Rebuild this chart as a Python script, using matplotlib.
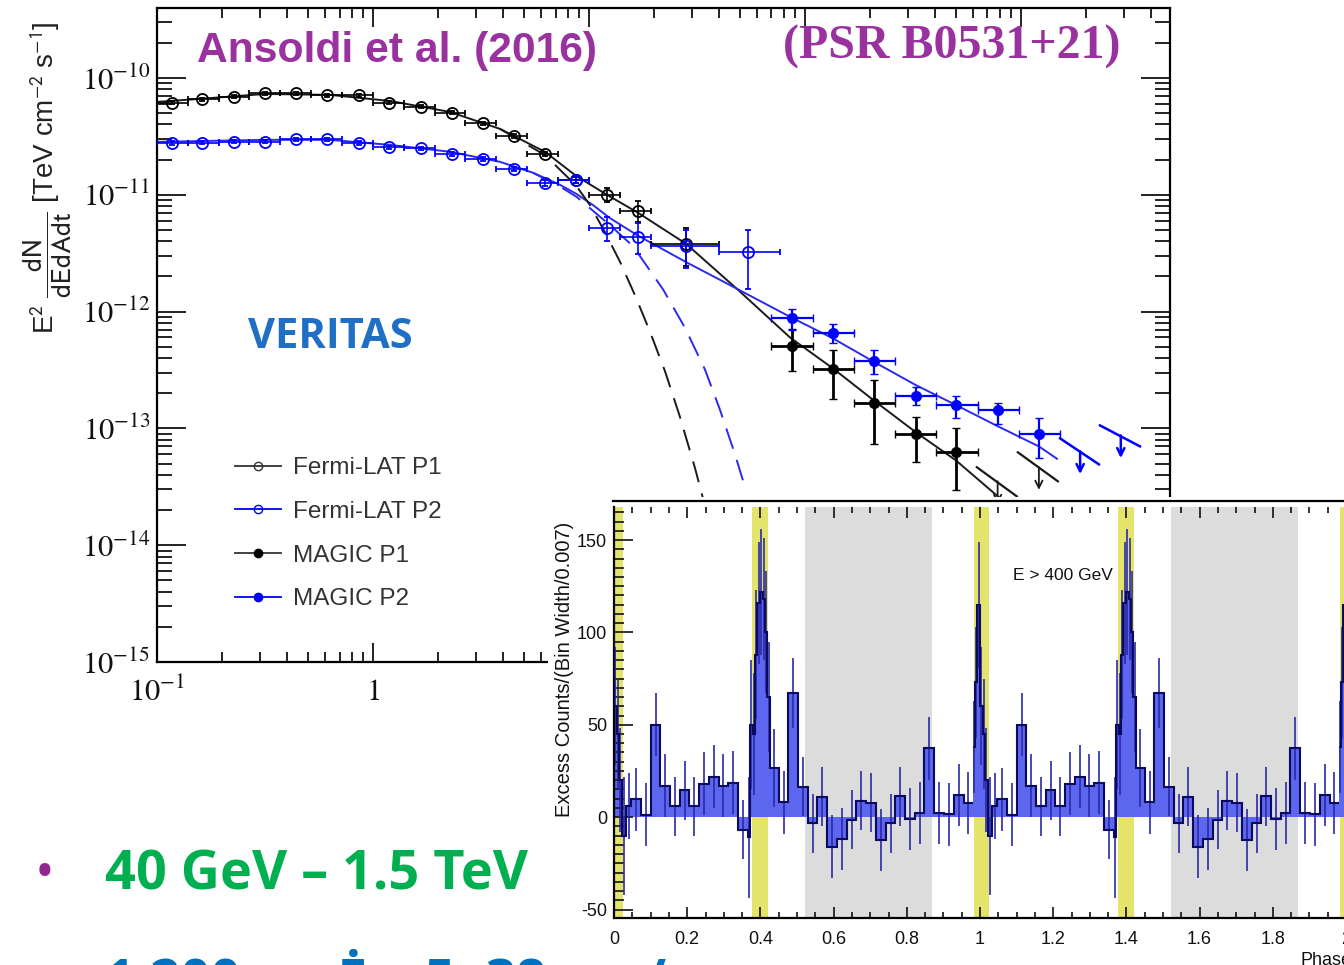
import numpy as np
import matplotlib
matplotlib.use("Agg")
import matplotlib.pyplot as plt
from matplotlib.lines import Line2D
from matplotlib.ticker import LogLocator, MultipleLocator, NullFormatter

plt.rcParams['font.family'] = ['Liberation Sans', 'DejaVu Sans']
plt.rcParams['mathtext.fontset'] = 'stix'
plt.rcParams['axes.unicode_minus'] = False

# ---------------- SED data (E in GeV, E^2 dN/dE in TeV cm^-2 s^-1) ----------------
fermi_e = [0.117, 0.162, 0.227, 0.316, 0.439, 0.614, 0.859, 1.19, 1.66, 2.31,
           3.22, 4.51, 6.25, 8.71, 12.1, 16.9, 28.1, 54.5]
fermi_edges = [0.1, 0.139, 0.193, 0.268, 0.373, 0.518, 0.72, 1.0, 1.39, 1.93,
               2.68, 3.73, 5.18, 7.2, 10.0, 13.9, 19.3, 40.0, 77.0]
fermi_p1_flux = [6.15e-11, 6.58e-11, 6.92e-11, 7.40e-11, 7.40e-11, 7.11e-11, 7.11e-11,
                 6.15e-11, 5.69e-11, 5.05e-11, 4.10e-11, 3.19e-11, 2.24e-11, 1.34e-11,
                 1.0e-11, 7.30e-12, 3.81e-12]
fermi_p1_err = [1.8e-12, 1.9e-12, 2.0e-12, 2.1e-12, 2.1e-12, 2.0e-12, 2.0e-12, 1.8e-12,
                1.7e-12, 1.5e-12, 1.3e-12, 1.1e-12, 0.9e-12, 0.8e-12, 1.4e-12, 1.5e-12,
                1.35e-12]
fermi_p2_flux = [2.77e-11, 2.80e-11, 2.84e-11, 2.84e-11, 2.99e-11, 2.99e-11, 2.77e-11,
                 2.54e-11, 2.49e-11, 2.24e-11, 2.04e-11, 1.66e-11, 1.26e-11, 1.34e-11,
                 5.22e-12, 4.38e-12, 3.66e-12, 3.26e-12]
fermi_p2_err = [0.9e-12, 0.9e-12, 0.9e-12, 0.9e-12, 0.9e-12, 0.9e-12, 0.9e-12, 0.8e-12,
                0.8e-12, 0.8e-12, 0.8e-12, 0.7e-12, 0.7e-12, 0.9e-12, 1.2e-12, 1.3e-12,
                1.3e-12, 1.7e-12]

magic_e = [87.3, 135, 208, 325, 500, 780, 1211]
magic_edges = [70, 109, 168, 262, 405, 630, 980, 1520]
magic_p1_flux = [5.12e-13, 3.24e-13, 1.66e-13, 9.0e-14, 6.32e-14]
magic_p1_lo = [3.09e-13, 1.80e-13, 7.3e-14, 5.15e-14, 2.95e-14]
magic_p1_hi = [7.11e-13, 4.65e-13, 2.62e-13, 1.25e-13, 1.0e-13]
magic_p2_flux = [8.83e-13, 6.49e-13, 3.76e-13, 1.91e-13, 1.57e-13, 1.43e-13, 9.0e-14]
magic_p2_lo = [7.01e-13, 5.40e-13, 2.94e-13, 1.57e-13, 1.23e-13, 1.10e-13, 5.61e-14]
magic_p2_hi = [1.06e-12, 7.85e-13, 4.65e-13, 2.25e-13, 1.89e-13, 1.64e-13, 1.23e-13]

# upper limits: arrow position and slanted bar ends
ul_p1_e = [780, 1211]
ul_p1_flux = [3.52e-14, 4.65e-14]
ul_p1_seg_e = [(625, 957), (968, 1483)]
ul_p1_seg_f = [(4.65e-14, 2.62e-14), (6.24e-14, 3.52e-14)]
ul_p2_e = [1880, 2900]
ul_p2_flux = [6.35e-14, 8.7e-14]
ul_p2_seg_e = [(1517, 2296), (2323, 3556)]
ul_p2_seg_f = [(8.22e-14, 4.92e-14), (1.06e-13, 7.02e-14)]

# fitted curves (log10 E, log10 flux)
fit_p1_loge = [-1.0, -0.801, -0.5, -0.199, 0.079, 0.356, 0.588, 0.796, 0.940, 1.083,
               1.227, 1.449, 1.699, 1.931, 2.130, 2.319, 2.514, 2.699, 2.903]
fit_p1_logf = [-10.205, -10.179, -10.137, -10.145, -10.197, -10.291, -10.436, -10.632,
               -10.838, -11.0, -11.154, -11.419, -11.829, -12.222, -12.487, -12.761,
               -13.034, -13.274, -13.598]
fit_p2_loge = [-1.0, -0.5, -0.199, 0.079, 0.356, 0.588, 0.741, 0.866, 0.944, 1.020,
               1.097, 1.227, 1.454, 1.593, 1.931, 2.130, 2.319, 2.514, 2.699, 2.894,
               3.083, 3.167]
fit_p2_logf = [-10.547, -10.530, -10.530, -10.573, -10.632, -10.718, -10.812, -10.915,
               -10.995, -11.09, -11.20, -11.35, -11.581, -11.715, -12.045, -12.23,
               -12.43, -12.63, -12.80, -12.983, -13.154, -13.26]
cut_p1_loge = [0.588, 0.796, 0.940, 1.005, 1.074, 1.144, 1.213, 1.282, 1.352, 1.421,
               1.491, 1.528]
cut_p1_logf = [-10.436, -10.66, -10.92, -11.09, -11.32, -11.575, -11.86, -12.17,
               -12.51, -12.90, -13.34, -13.60]
cut_p2_loge = [0.741, 0.866, 0.944, 1.097, 1.204, 1.343, 1.444, 1.537, 1.606, 1.676,
               1.722]
cut_p2_logf = [-10.812, -10.93, -11.02, -11.26, -11.44, -11.81, -12.137, -12.496,
               -12.838, -13.222, -13.50]

legend_labels = ['Fermi-LAT P1', 'Fermi-LAT P2', 'MAGIC P1', 'MAGIC P2']
sed_yticks = [1e-15, 1e-14, 1e-13, 1e-12, 1e-11, 1e-10]
sed_ytick_labels = [r'$10^{-15}$', r'$10^{-14}$', r'$10^{-13}$', r'$10^{-12}$',
                    r'$10^{-11}$', r'$10^{-10}$']
sed_xticks = [0.1, 1, 10, 100, 1000]
sed_xtick_labels = [r'$10^{-1}$', r'$1$', r'$10$', r'$10^{2}$', r'$10^{3}$']

# ---------------- phaseogram (one cycle, repeated) ----------------
phase_edges = [-0.020, -0.013, -0.007, 0.000, 0.007, 0.014, 0.021, 0.034, 0.047, 0.074,
               0.100, 0.127, 0.153, 0.180, 0.206, 0.233, 0.259, 0.286, 0.312, 0.339,
               0.365, 0.372, 0.379, 0.385, 0.392, 0.399, 0.406, 0.412, 0.419, 0.426,
               0.451, 0.476, 0.503, 0.529, 0.556, 0.582, 0.609, 0.636, 0.662, 0.689,
               0.715, 0.742, 0.769, 0.795, 0.822, 0.848, 0.875, 0.901, 0.928, 0.955,
               0.980]
excess = [38, 73, 115, 60, 45, 20, -10, 6, 9.6, 1.4,
          50, 17, 6, 14.6, 6, 18, 22, 17, 18.6, -6.7,
          -11, 50, 45, 88, 116, 122, 118, 100, 65, 26.5,
          8, 67.4, 16.5, -3.4, 11, -15.9, -11.8, -1.5, 9, 7.7,
          -12.4, -3.4, 11.4, -1, 2.2, 37.2, 2.2, 1.6, 12, 7.7]
excess_err = [25, 30, 34, 32, 30, 28, 32, 18, 17, 17,
              17, 17, 16, 16, 16, 17, 17, 17, 17, 16,
              33, 35, 33, 35, 33, 34, 33, 33, 30, 21,
              17, 19, 16, 16, 16, 17, 17, 16, 16, 16,
              17, 16, 16, 17, 17, 17, 17, 17, 17, 17]
cycles = [0, 1, 2]
p1_band = (-0.016, 0.025)
p2_band = (0.378, 0.421)
off_band = (0.522, 0.870)
inset_xticks = [0, 0.2, 0.4, 0.6, 0.8, 1.0, 1.2, 1.4, 1.6, 1.8, 2.0]
inset_xtick_labels = ['0', '0.2', '0.4', '0.6', '0.8', '1', '1.2', '1.4', '1.6', '1.8', '2']
inset_yticks = [-50, 0, 50, 100, 150]

W, H = 1344.0, 965.0


def fx(px):
    return px / W


def fy(py):
    return 1 - py / H


fig = plt.figure(figsize=(13.44, 9.65), dpi=100)

# ---------------- main SED axes ----------------
ax = fig.add_axes([fx(157), fy(662), fx(1170) - fx(157), fy(8) - fy(662)], zorder=1)
ax.set_xscale('log')
ax.set_yscale('log')
ax.set_xlim(0.1, 4900)
ax.set_ylim(1e-15, 3.97e-10)

ax.plot(10 ** np.array(fit_p1_loge), 10 ** np.array(fit_p1_logf), color='#1a1a1a', lw=1.4, zorder=2)
ax.plot(10 ** np.array(fit_p2_loge), 10 ** np.array(fit_p2_logf), color='#2a2aee', lw=1.4, zorder=2)
ax.plot(10 ** np.array(cut_p1_loge), 10 ** np.array(cut_p1_logf), color='#1a1a1a', lw=1.4,
        ls=(0, (11, 6)), zorder=2)
ax.plot(10 ** np.array(cut_p2_loge), 10 ** np.array(cut_p2_logf), color='#2a2aee', lw=1.4,
        ls=(0, (11, 6)), zorder=2)

fe = np.array(fermi_e)
fed = np.array(fermi_edges)
n1 = len(fermi_p1_flux)
n2 = len(fermi_p2_flux)
ax.errorbar(fe[:n1], fermi_p1_flux, xerr=[fe[:n1] - fed[:n1], fed[1:n1 + 1] - fe[:n1]],
            yerr=fermi_p1_err, fmt='o', ms=8, mfc='none', mec='black', mew=1.3,
            ecolor='black', elinewidth=1.2, capsize=2.5, zorder=4)
ax.errorbar(fe[:n2], fermi_p2_flux, xerr=[fe[:n2] - fed[:n2], fed[1:n2 + 1] - fe[:n2]],
            yerr=fermi_p2_err, fmt='o', ms=8, mfc='none', mec='blue', mew=1.3,
            ecolor='blue', elinewidth=1.2, capsize=2.5, zorder=4)

me = np.array(magic_e)
med = np.array(magic_edges)
m1 = len(magic_p1_flux)
m2 = len(magic_p2_flux)
f1 = np.array(magic_p1_flux)
f2 = np.array(magic_p2_flux)
ax.errorbar(me[:m1], f1, xerr=[me[:m1] - med[:m1], med[1:m1 + 1] - me[:m1]],
            yerr=[f1 - np.array(magic_p1_lo), np.array(magic_p1_hi) - f1],
            fmt='o', ms=7, color='black', elinewidth=2.0, capsize=3, zorder=5)
ax.errorbar(me[:m2], f2, xerr=[me[:m2] - med[:m2], med[1:m2 + 1] - me[:m2]],
            yerr=[f2 - np.array(magic_p2_lo), np.array(magic_p2_hi) - f2],
            fmt='o', ms=7, color='blue', elinewidth=1.6, capsize=3, zorder=5)

for (e_lo, e_hi), (f_lo, f_hi) in zip(ul_p1_seg_e, ul_p1_seg_f):
    ax.plot([e_lo, e_hi], [f_lo, f_hi], color='#1a1a1a', lw=1.6, zorder=3)
for (e_lo, e_hi), (f_lo, f_hi) in zip(ul_p2_seg_e, ul_p2_seg_f):
    ax.plot([e_lo, e_hi], [f_lo, f_hi], color='blue', lw=1.8, zorder=3)
for e, f in zip(ul_p1_e, ul_p1_flux):
    ax.annotate('', xy=(e, f * 0.64), xytext=(e, f),
                arrowprops=dict(arrowstyle='->', color='#1a1a1a', lw=1.3,
                                shrinkA=0, shrinkB=0, mutation_scale=13))
for e, f in zip(ul_p2_e, ul_p2_flux):
    ax.annotate('', xy=(e, f * 0.64), xytext=(e, f),
                arrowprops=dict(arrowstyle='->', color='blue', lw=1.8,
                                shrinkA=0, shrinkB=0, mutation_scale=13))

ax.set_yticks(sed_yticks, labels=sed_ytick_labels)
ax.set_xticks(sed_xticks, labels=sed_xtick_labels)
ax.yaxis.set_minor_locator(LogLocator(base=10, subs=np.arange(2, 10), numticks=30))
ax.xaxis.set_minor_locator(LogLocator(base=10, subs=np.arange(2, 10), numticks=30))
ax.yaxis.set_minor_formatter(NullFormatter())
ax.xaxis.set_minor_formatter(NullFormatter())
ax.tick_params(which='both', direction='in', top=True, right=True, width=1.3,
               labelsize=22, colors='#111111')
ax.tick_params(axis='y', which='major', length=21, pad=5)
ax.tick_params(axis='y', which='minor', length=10.5)
ax.tick_params(axis='x', which='major', length=14, pad=11)
ax.tick_params(axis='x', which='minor', length=7)
for s in ax.spines.values():
    s.set_linewidth(1.6)

handles = [
    Line2D([], [], color='#333333', lw=1.3, marker='o', ms=6, mfc='none', mec='#333333'),
    Line2D([], [], color='blue', lw=1.3, marker='o', ms=6, mfc='none', mec='blue'),
    Line2D([], [], color='#333333', lw=1.3, marker='o', ms=6, mfc='black', mec='black'),
    Line2D([], [], color='blue', lw=1.3, marker='o', ms=6, mfc='blue', mec='blue'),
]
leg = ax.legend(handles, legend_labels, loc='upper left', bbox_to_anchor=(0.077, 0.313),
                frameon=False, prop=dict(family='Liberation Sans', size=17.5),
                handlelength=1.9, handletextpad=0.5, labelspacing=0.89,
                borderpad=0, borderaxespad=0)
for t in leg.get_texts():
    t.set_color('#333333')

fig.text(fx(47), fy(178),
         r'E$^{2}$ $\dfrac{\mathrm{dN}}{\mathrm{dEdAdt}}$ [TeV cm$^{-2}$ s$^{-1}$]',
         rotation=90, ha='center', va='center', fontsize=20, color='#222222',
         family='Liberation Sans', math_fontfamily='stixsans')

# ---------------- inset phaseogram ----------------
bg = fig.add_axes([fx(548), 0, 1 - fx(548), fy(497)], zorder=2)
bg.set_xticks([])
bg.set_yticks([])
for s in bg.spines.values():
    s.set_visible(False)
fig.add_artist(Line2D([fx(613), 1.0], [fy(501), fy(501)], color='black', lw=1.6,
                      transform=fig.transFigure, zorder=4))

ax2 = fig.add_axes([fx(614), fy(918), fx(1346) - fx(614), fy(507) - fy(918)], zorder=3)
ax2.set_xlim(0, 2)
ax2.set_ylim(-54.6, 167.9)
ax2.patch.set_alpha(0)

for k in cycles:
    ax2.axvspan(p1_band[0] + k, p1_band[1] + k, color='#e4e46c', lw=0, zorder=0)
for k in cycles[:2]:
    ax2.axvspan(p2_band[0] + k, p2_band[1] + k, color='#e4e46c', lw=0, zorder=0)
    ax2.axvspan(off_band[0] + k, off_band[1] + k, color='#dcdcdc', lw=0, zorder=0)

pe = np.array(phase_edges)
centers = 0.5 * (pe[:-1] + pe[1:])
for k in cycles:
    ax2.stairs(excess, pe + k, baseline=0, fill=True, color='#5c66ee', lw=0, zorder=1)
    ax2.errorbar(centers + k, excess, yerr=excess_err, fmt='none', ecolor='#2a2aa8',
                 elinewidth=1.2, zorder=2)
    ax2.stairs(excess, pe + k, baseline=None, color='#0a0a60', lw=1.5, zorder=3)

inset_font = 'Liberation Sans'
ax2.set_xticks(inset_xticks, labels=inset_xtick_labels)
ax2.set_yticks(inset_yticks)
ax2.xaxis.set_minor_locator(MultipleLocator(0.05))
ax2.yaxis.set_minor_locator(MultipleLocator(5))
ax2.tick_params(which='both', direction='in', top=True, right=False, width=1.2,
                labelsize=13, colors='#111111')
ax2.tick_params(axis='x', which='major', length=8, pad=9)
ax2.tick_params(axis='x', which='minor', length=4.5)
ax2.tick_params(axis='y', which='major', length=14, pad=5)
ax2.tick_params(axis='y', which='minor', length=7)
ax2.spines['top'].set_visible(False)
for s in ax2.spines.values():
    s.set_linewidth(1.6)

fig.text(fx(564), fy(669), 'Excess Counts/(Bin Width/0.007)', rotation=90,
         ha='center', va='center', fontsize=14.5, family=inset_font, color='#111111', zorder=6)
fig.text(fx(1013), fy(575), 'E > 400 GeV', ha='left', va='center', fontsize=12.5,
         family=inset_font, color='#111111', zorder=6)
fig.text(fx(1300), fy(952), 'Phase', ha='left', va='top', fontsize=13,
         family=inset_font, color='#111111', zorder=6)

# ---------------- slide annotations ----------------
fig.text(fx(197), fy(51), 'Ansoldi et al. (2016)', ha='left', va='center',
         fontsize=30.7, fontweight='bold', family='Liberation Sans', color='#99319f', zorder=6)
fig.text(fx(783), fy(47), '(PSR B0531+21)', ha='left', va='center',
         fontsize=34.5, fontweight='bold', family='Liberation Serif', color='#99319f', zorder=6)
fig.text(fx(248), fy(337), 'VERITAS', ha='left', va='center',
         fontsize=30, fontweight='bold', family='Open Sans', color='#1f6fc4', zorder=6)
fig.text(fx(35), fy(889), '\u2022', ha='left', va='baseline', fontsize=38,
         family='Open Sans', color='#92278f', zorder=6)
fig.text(fx(105), fy(890), '40 GeV \u2013 1.5 TeV', ha='left', va='baseline',
         fontsize=39, fontweight='bold', family='Open Sans', color='#00b050', zorder=6)
fig.text(fx(35), fy(997), '\u2022', ha='left', va='baseline', fontsize=38,
         family='Open Sans', color='#92278f', zorder=6)
fig.text(fx(105), fy(998), '1,200 yr, \u0116 ~ 5e38 erg/s', ha='left', va='baseline',
         fontsize=38, fontweight='bold', family='Open Sans', color='#0070c0', zorder=6)

fig.savefig('out.png', dpi=100)
